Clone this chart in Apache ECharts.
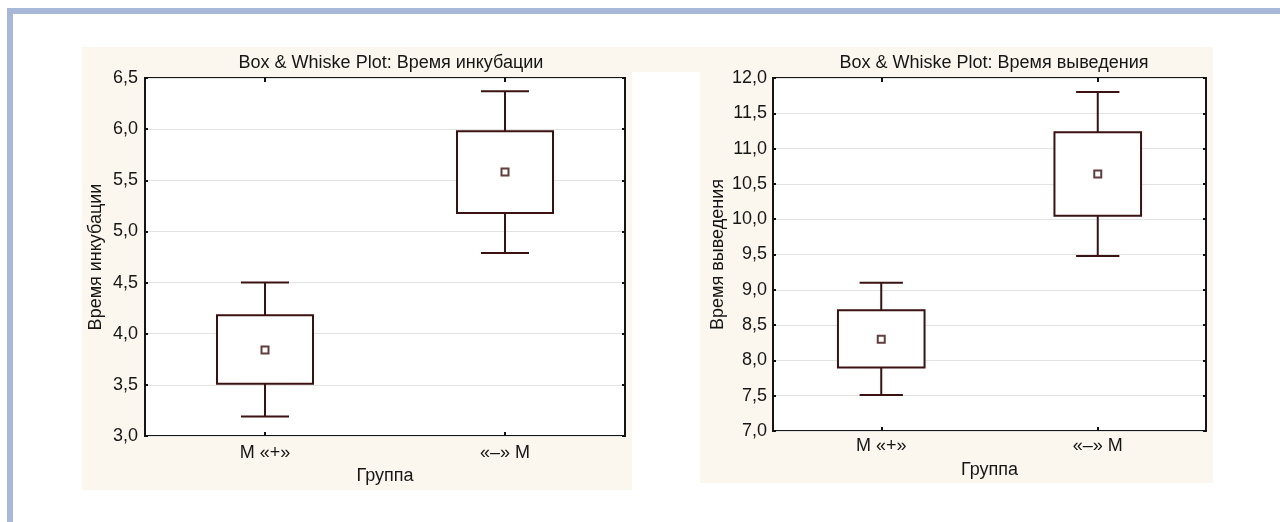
<!DOCTYPE html>
<html>
<head>
<meta charset="utf-8">
<script src="https://cdn.jsdelivr.net/npm/echarts@6/dist/echarts.min.js"></script>
<style>
html,body{margin:0;padding:0;background:#fff;}
#c{width:1280px;height:522px;}
</style>
</head>
<body>
<div id="c"></div>
<script>
// ---- data ----
const categories = ['M «+»', '«–» M'];
const titles = ['Box & Whiske Plot: Время инкубации', 'Box & Whiske Plot: Время выведения'];
const yNames = ['Время инкубации', 'Время выведения'];
const xName = 'Группа';

// Время инкубации
const incMin  = [3.19, 4.79];
const incQ1   = [3.51, 5.18];
const incQ3   = [4.18, 5.98];
const incMax  = [4.50, 6.37];
const incMean = [3.84, 5.58];

// Время выведения
const outMin  = [7.51, 9.48];
const outQ1   = [7.90, 10.05];
const outQ3   = [8.71, 11.23];
const outMax  = [9.10, 11.80];
const outMean = [8.30, 10.64];

// y axis ranges
const incAxis = {min: 3.0, max: 6.5, interval: 0.5};
const outAxis = {min: 7.0, max: 12.0, interval: 0.5};

// ---- styles ----
const FONT = "'Liberation Sans', Arial, sans-serif";
const TXT = '#161616';
const BOX = '#3a1212';
const FS = 18;

function boxData(mn, q1, q3, mx) {
  return categories.map((c, i) => [i, mn[i], q1[i], q3[i], mx[i]]);
}
function meanData(m) { return categories.map((c, i) => [i, m[i]]); }

function renderBox(params, api) {
  const x = api.value(0);
  const pMin = api.coord([x, api.value(1)]);
  const pQ1 = api.coord([x, api.value(2)]);
  const pQ3 = api.coord([x, api.value(3)]);
  const pMax = api.coord([x, api.value(4)]);
  const band = api.size([1, 0])[0];
  const bw = band * 0.4, cw = band * 0.2;
  const cx = pMin[0];
  const st = {stroke: BOX, lineWidth: 2, fill: 'none'};
  return {type: 'group', children: [
    {type: 'line', shape: {x1: cx, y1: pMax[1], x2: cx, y2: pQ3[1]}, style: st},
    {type: 'line', shape: {x1: cx, y1: pQ1[1], x2: cx, y2: pMin[1]}, style: st},
    {type: 'line', shape: {x1: cx - cw/2, y1: pMax[1], x2: cx + cw/2, y2: pMax[1]}, style: st},
    {type: 'line', shape: {x1: cx - cw/2, y1: pMin[1], x2: cx + cw/2, y2: pMin[1]}, style: st},
    {type: 'rect', shape: {x: cx - bw/2, y: pQ3[1], width: bw, height: pQ1[1] - pQ3[1]},
     style: {stroke: BOX, lineWidth: 2, fill: '#ffffff'}}
  ]};
}

const fmt = v => v.toFixed(1).replace('.', ',');

function xAxes(gi, labelMargin) {
  return [
    {type: 'category', gridIndex: gi, data: categories, position: 'bottom',
     name: xName, nameLocation: 'middle', nameGap: 30,
     nameTextStyle: {fontFamily: FONT, fontSize: FS, color: TXT},
     axisLine: {show: false},
     axisTick: {show: true, inside: true, alignWithLabel: true, length: 4, lineStyle: {color: '#111', width: 2}},
     axisLabel: {fontFamily: FONT, fontSize: FS, color: TXT, margin: labelMargin},
     splitLine: {show: false}},
    {type: 'category', gridIndex: gi, data: categories, position: 'top',
     axisLine: {show: false},
     axisTick: {show: true, inside: true, alignWithLabel: true, length: 4, lineStyle: {color: '#111', width: 2}},
     axisLabel: {show: false}, splitLine: {show: false}}
  ];
}
function yAxes(gi, ax, name, nameGap, labelMargin) {
  return [
    {type: 'value', gridIndex: gi, position: 'left', min: ax.min, max: ax.max, interval: ax.interval,
     name: name, nameLocation: 'middle', nameGap: nameGap,
     nameTextStyle: {fontFamily: FONT, fontSize: FS, color: TXT},
     axisLine: {show: false},
     axisTick: {show: true, inside: true, length: 3, lineStyle: {color: '#111', width: 2}},
     axisLabel: {fontFamily: FONT, fontSize: FS, color: TXT, margin: labelMargin, formatter: fmt},
     splitLine: {show: true, lineStyle: {color: '#e3e3e3', width: 1}}},
    {type: 'value', gridIndex: gi, position: 'right', min: ax.min, max: ax.max, interval: ax.interval,
     axisLine: {show: false},
     axisTick: {show: true, inside: true, length: 3, lineStyle: {color: '#111', width: 2}},
     axisLabel: {show: false}, splitLine: {show: false}}
  ];
}

const chart = echarts.init(document.getElementById('c'), null, {renderer: 'canvas'});
chart.setOption({
  backgroundColor: '#ffffff',
  animation: false,
  graphic: [
    {type: 'rect', z: -10, shape: {x: 7, y: 8, width: 1273, height: 6}, style: {fill: '#a7b8d8'}},
    {type: 'rect', z: -10, shape: {x: 7, y: 8, width: 6, height: 514}, style: {fill: '#a7b8d8'}},
    {type: 'rect', z: -10, shape: {x: 82, y: 47, width: 550, height: 443}, style: {fill: '#fbf7ee'}},
    {type: 'rect', z: -10, shape: {x: 632, y: 47, width: 68, height: 25}, style: {fill: '#fbf7ee'}},
    {type: 'rect', z: -10, shape: {x: 700, y: 47, width: 513, height: 436}, style: {fill: '#fbf7ee'}}
  ],
  title: [
    {text: titles[0], left: 386, top: 49, textAlign: 'center',
     textStyle: {fontFamily: FONT, fontSize: FS, fontWeight: 'normal', color: TXT}},
    {text: titles[1], left: 989, top: 49, textAlign: 'center',
     textStyle: {fontFamily: FONT, fontSize: FS, fontWeight: 'normal', color: TXT}}
  ],
  grid: [
    {left: 145, top: 78, width: 480, height: 358, show: true, backgroundColor: '#ffffff',
     borderColor: '#151515', borderWidth: 2, containLabel: false},
    {left: 773, top: 78, width: 433, height: 353, show: true, backgroundColor: '#ffffff',
     borderColor: '#151515', borderWidth: 2, containLabel: false}
  ],
  xAxis: [].concat(xAxes(0, 8), xAxes(1, 6)),
  yAxis: [].concat(yAxes(0, incAxis, yNames[0], 40, 7), yAxes(1, outAxis, yNames[1], 46, 6)),
  series: [
    {type: 'custom', xAxisIndex: 0, yAxisIndex: 0, renderItem: renderBox,
     data: boxData(incMin, incQ1, incQ3, incMax), encode: {x: 0, y: [1, 2, 3, 4]}, z: 3},
    {type: 'scatter', xAxisIndex: 0, yAxisIndex: 0, data: meanData(incMean),
     symbol: 'rect', symbolSize: 7, z: 4,
     itemStyle: {color: '#ffffff', borderColor: '#3a0e0e', borderWidth: 2}},
    {type: 'custom', xAxisIndex: 2, yAxisIndex: 2, renderItem: renderBox,
     data: boxData(outMin, outQ1, outQ3, outMax), encode: {x: 0, y: [1, 2, 3, 4]}, z: 3},
    {type: 'scatter', xAxisIndex: 2, yAxisIndex: 2, data: meanData(outMean),
     symbol: 'rect', symbolSize: 7, z: 4,
     itemStyle: {color: '#ffffff', borderColor: '#3a0e0e', borderWidth: 2}}
  ]
});
</script>
</body>
</html>
